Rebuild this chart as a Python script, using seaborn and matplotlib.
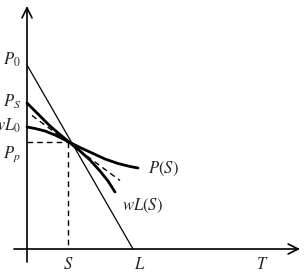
import numpy as np
import pandas as pd
import matplotlib
matplotlib.use("Agg")
import matplotlib.pyplot as plt
import seaborn as sns

# values (origin at the axes crossing)
ps_x = [0, 8, 18, 28, 35, 42, 53, 65, 78, 91, 103, 111]
ps_y = [122, 120.5, 118, 114, 110.5, 107, 101.5, 96, 90, 85.5, 82.5, 81]

wl_x = [0, 13, 23, 33, 42, 53, 63, 73, 81, 88]
wl_y = [146, 133, 123, 114.5, 107, 98, 89, 78, 68, 57]

tan_x = [5, 93]
tan_y = [133.5, 68.5]

p0_line_x = [0, 106]
p0_line_y = [184, 0]

S_val = 41
L_val = 106
Pp_val = 107
T_pos = 235

left_labels = ["$P_0$", "$P_S$", "$wL_0$", "$P_p$"]
left_label_y = [189, 147, 123, 95]
x_labels = ["$S$", "$L$", "$T$"]
x_label_x = [S_val, 113, T_pos]

sns.set_theme(style="white")
plt.rcParams["mathtext.fontset"] = "stix"
plt.rcParams["font.family"] = ["Liberation Serif", "DejaVu Serif"]

fig = plt.figure(figsize=(3.08, 2.76), dpi=100)
ax = fig.add_axes([0, 0, 1, 1])
ax.set_xlim(-27, 281)
ax.set_ylim(-27, 249)
ax.axis("off")

ps_df = pd.DataFrame({"x": ps_x, "y": ps_y})
wl_df = pd.DataFrame({"x": wl_x, "y": wl_y})

# thin straight line P0 -> L
sns.lineplot(x=p0_line_x, y=p0_line_y, ax=ax, color="black", lw=0.9, sort=False)
# dashed tangent
sns.lineplot(x=tan_x, y=tan_y, ax=ax, color="black", lw=1.0, sort=False,
             linestyle=(0, (4, 3)))
# thick curves
sns.lineplot(data=ps_df, x="x", y="y", ax=ax, color="black", lw=2.0, sort=False)
sns.lineplot(data=wl_df, x="x", y="y", ax=ax, color="black", lw=2.0, sort=False)

# dashed guides to the intersection
ax.plot([0, S_val], [Pp_val, Pp_val], color="black", lw=1.0, ls=(0, (4, 3)))
ax.plot([S_val, S_val], [Pp_val, 0], color="black", lw=1.0, ls=(0, (4, 3)))

# axes with arrows
ax.annotate("", xy=(0, 243), xytext=(0, -13),
            arrowprops=dict(arrowstyle="->,head_length=0.6,head_width=0.3",
                            lw=1.2, color="black", shrinkA=0, shrinkB=0))
ax.annotate("", xy=(273, 0), xytext=(-13, 0),
            arrowprops=dict(arrowstyle="->,head_length=0.6,head_width=0.3",
                            lw=1.2, color="black", shrinkA=0, shrinkB=0))

fs = 12
for lab, yy in zip(left_labels, left_label_y):
    ax.text(-6, yy, lab, ha="right", va="center", fontsize=fs)
for lab, xx in zip(x_labels, x_label_x):
    ax.text(xx, -16, lab, ha="center", va="center", fontsize=fs)

ax.text(136, 80, "$P(S)$", ha="center", va="center", fontsize=fs)
ax.text(115, 43, "$wL(S)$", ha="center", va="center", fontsize=fs)

fig.savefig("out.png", dpi=100)
